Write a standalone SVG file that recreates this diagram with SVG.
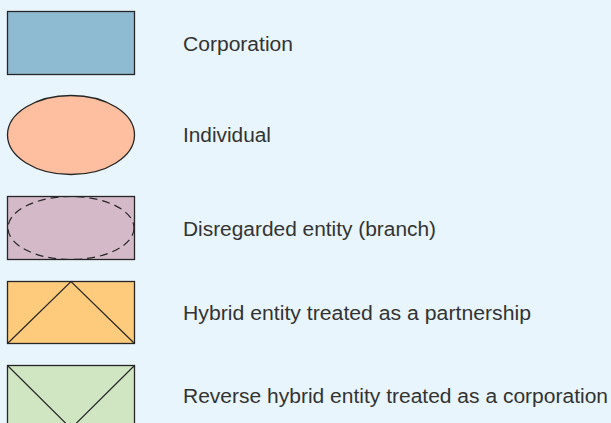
<svg xmlns="http://www.w3.org/2000/svg" width="611" height="423" viewBox="0 0 611 423">
<style>
.shape{stroke:#262626;stroke-width:1.3}
.lbl{font-family:"Liberation Sans",Arial,sans-serif;font-size:19.5px;fill:#333333}
</style>
<rect x="0" y="0" width="611" height="423" fill="#e9f5fc"/>
<g id="corporation">
<rect class="shape" x="7.5" y="11.5" width="127" height="63" fill="#8fbbd2"/>
<text class="lbl" x="183" y="51" textLength="110" lengthAdjust="spacingAndGlyphs">Corporation</text>
</g>
<g id="individual">
<ellipse class="shape" cx="71" cy="135" rx="63.5" ry="39.5" fill="#fdbf9f"/>
<text class="lbl" x="183" y="142" textLength="88" lengthAdjust="spacingAndGlyphs">Individual</text>
</g>
<g id="disregarded">
<rect class="shape" x="7.5" y="196.5" width="127" height="63" fill="#d4b9c8"/>
<ellipse cx="71" cy="228" rx="63" ry="31.5" fill="none" stroke="#262626" stroke-width="1.2" stroke-dasharray="8,5"/>
<text class="lbl" x="183" y="236" textLength="253" lengthAdjust="spacingAndGlyphs">Disregarded entity (branch)</text>
</g>
<g id="hybrid">
<rect class="shape" x="7.5" y="281.5" width="127" height="62" fill="#fdcb7b"/>
<polyline points="7.5,343.5 71,281.5 134.5,343.5" fill="none" stroke="#262626" stroke-width="1.2"/>
<text class="lbl" x="183" y="320" textLength="348" lengthAdjust="spacingAndGlyphs">Hybrid entity treated as a partnership</text>
</g>
<g id="reverse-hybrid">
<rect class="shape" x="7.5" y="365.5" width="127" height="63" fill="#d0e6c3"/>
<polyline points="7.5,365.5 71,428.5 134.5,365.5" fill="none" stroke="#262626" stroke-width="1.2"/>
<text class="lbl" x="183" y="403" textLength="425" lengthAdjust="spacingAndGlyphs">Reverse hybrid entity treated as a corporation</text>
</g>
<g id="connectors"/>
</svg>
